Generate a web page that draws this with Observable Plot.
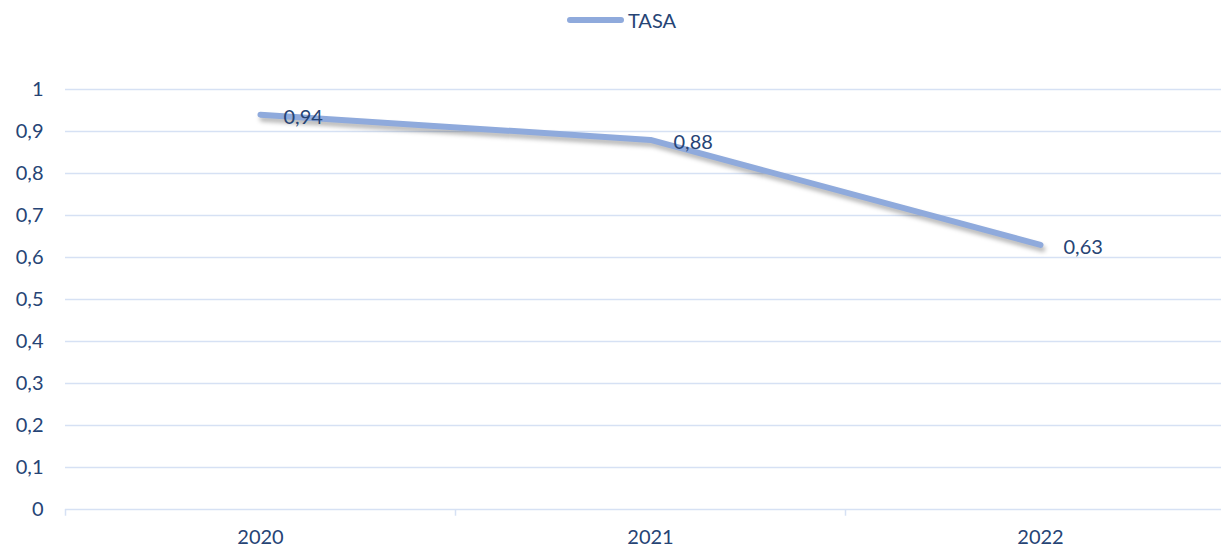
<!DOCTYPE html>
<html><head><meta charset="utf-8">
<script src="https://cdn.jsdelivr.net/npm/d3@7"></script>
<script src="https://cdn.jsdelivr.net/npm/@observablehq/plot@0.6"></script>
<style>
body{margin:0;background:#fff;font-family:Lato,"Open Sans",sans-serif;overflow:hidden}
#legend{height:40px;display:flex;align-items:center;justify-content:center;color:#264475;font-size:20px}
#legend .sw{display:inline-block;width:57px;height:6px;border-radius:3px;background:#8faadc;margin-right:4px;margin-left:22px}
.shadowline{filter:drop-shadow(2px 4px 2px rgba(0,0,0,0.28))}
</style></head>
<body>
<div id="legend"><span class="sw"></span><span>TASA</span></div>
<div id="chart"></div>
<script>
const years = ["2020", "2021", "2022"];
const tasa = [0.94, 0.88, 0.63];
const yTicks = [0, 0.1, 0.2, 0.3, 0.4, 0.5, 0.6, 0.7, 0.8, 0.9, 1];

const data = years.map((y, i) => ({i, year: y, value: tasa[i]}));
const edges = years.map((_, i) => i - 0.5);
const comma = v => String(+v.toFixed(2)).replace(".", ",");
const textColor = "#264475";
const gridColor = "#d6e1f4";

const chart = Plot.plot({
  width: 1221,
  height: 509,
  marginLeft: 65,
  marginRight: -14,
  marginTop: 49,
  marginBottom: 40,
  style: {fontFamily: "Lato, 'Open Sans', sans-serif", fontSize: "20px", color: textColor, background: "#fff", overflow: "visible"},
  x: {type: "linear", domain: [-0.5, years.length - 0.5]},
  y: {domain: [0, 1]},
  marks: [
    Plot.ruleY(yTicks, {stroke: gridColor, strokeWidth: 1.5}),
    Plot.ruleX(edges, {y1: 0, y2: -0.016, stroke: gridColor, strokeWidth: 1.5}),
    Plot.axisY(yTicks, {tickSize: 0, tickPadding: 22, tickFormat: comma, fill: textColor, fontSize: 20, label: null}),
    Plot.axisX(years.map((_, i) => i), {tickSize: 0, tickPadding: 20, tickFormat: i => years[i], fill: textColor, fontSize: 20, label: null}),
    Plot.line(data, {x: "i", y: "value", stroke: "#8faadc", strokeWidth: 6, strokeLinecap: "round", strokeLinejoin: "round", className: "shadowline"}),
    Plot.text(data, {x: "i", y: "value", text: d => comma(d.value), textAnchor: "start", dx: 23, dy: 3, fill: textColor, fontSize: 20})
  ]
});
document.getElementById("chart").appendChild(chart);
</script>
</body></html>
